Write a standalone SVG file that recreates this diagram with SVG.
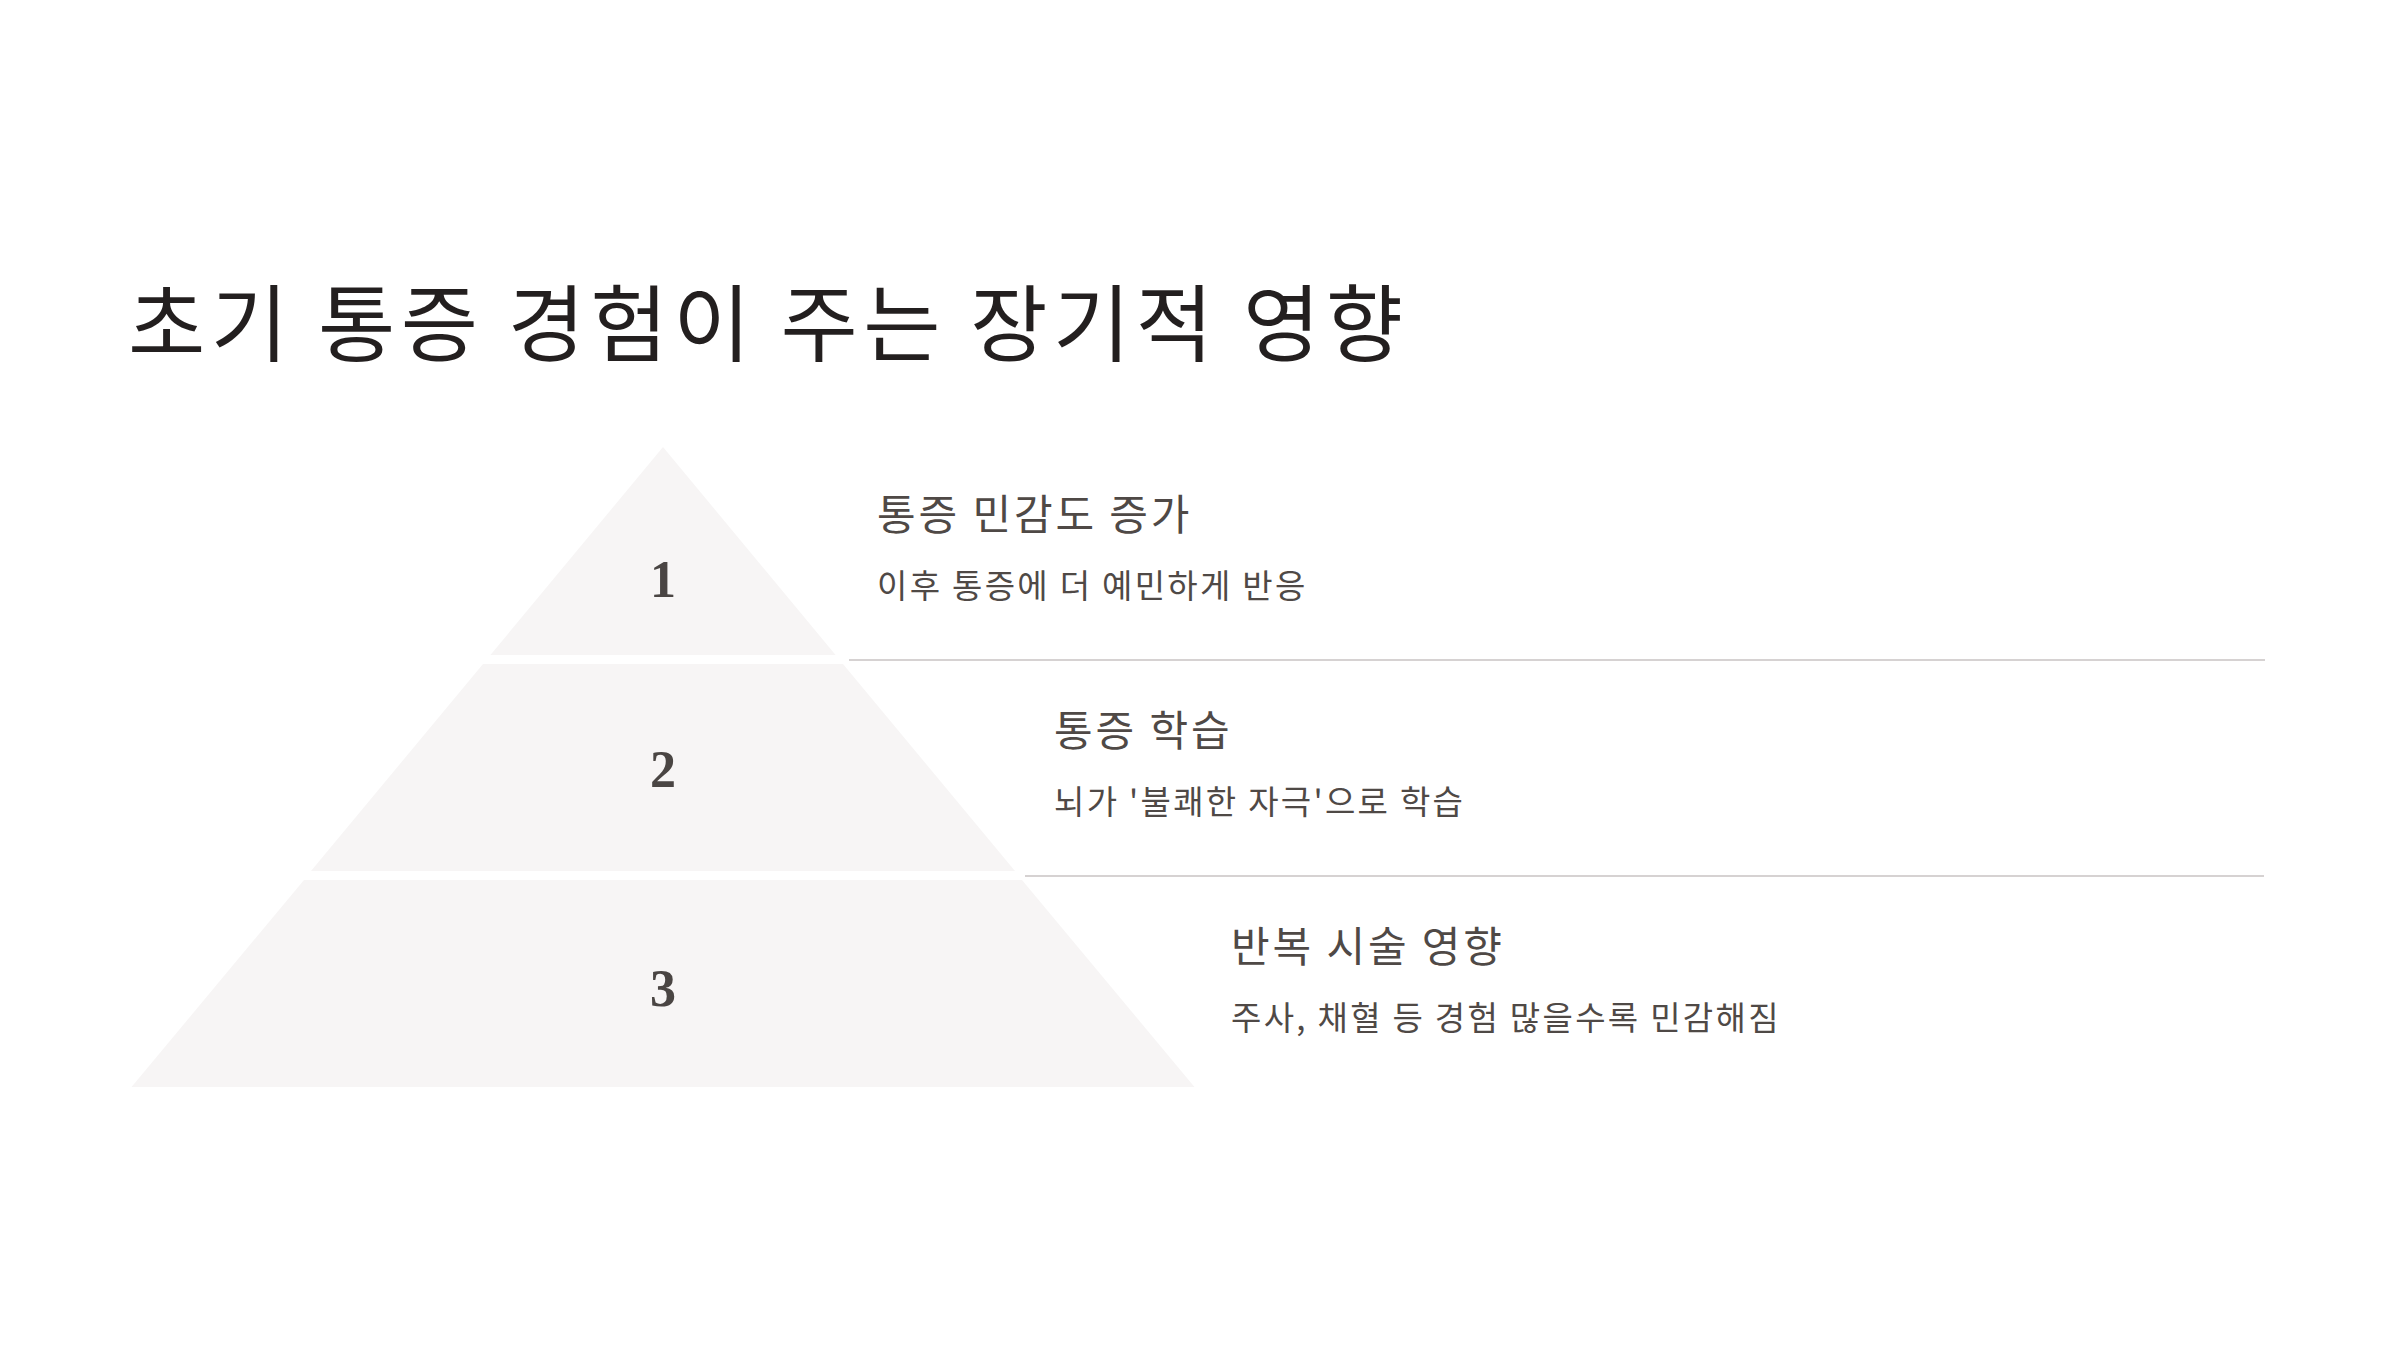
<svg xmlns="http://www.w3.org/2000/svg" width="2400" height="1350" viewBox="0 0 2400 1350">
  <style>
    .kr { font-family: "Noto Sans CJK KR", "Noto Sans", sans-serif; }
    .title { font-size: 84px; fill: #231f1f; letter-spacing: 5.5px; }
    .head { font-size: 42px; fill: #4f4946; letter-spacing: 2.9px; }
    .sub { font-size: 33px; fill: #4f4946; letter-spacing: 2.3px; }
    .tier { fill: #f7f5f5; }
    .num { font-family: "Liberation Serif", "DejaVu Serif", serif; font-size: 52px; font-weight: bold; fill: #4a4543; text-anchor: middle; }
    .sep { stroke: #d6d2d2; stroke-width: 2; }
  </style>
  <rect width="2400" height="1350" fill="#ffffff"/>
  <text class="kr title" x="128" y="355">초기 통증 경험이 주는 장기적 영향</text>

  <g id="tier1">
    <polygon class="tier" points="663,447 835.6,655 490.4,655"/>
    <text class="num" x="663" y="597">1</text>
    <text class="kr head" x="877" y="530">통증 민감도 증가</text>
    <text class="kr sub" x="877" y="598">이후 통증에 더 예민하게 반응</text>
  </g>
  <g id="tier2">
    <polygon class="tier" points="483,664 843,664 1015,871 311,871"/>
    <text class="num" x="663" y="787">2</text>
    <text class="kr head" x="1054" y="746">통증 학습</text>
    <text class="kr sub" x="1054" y="814">뇌가 '불쾌한 자극'으로 학습</text>
  </g>
  <g id="tier3">
    <polygon class="tier" points="304,880 1022,880 1194.5,1087 131.5,1087"/>
    <text class="num" x="663" y="1006">3</text>
    <text class="kr head" x="1231" y="962">반복 시술 영향</text>
    <text class="kr sub" x="1231" y="1030">주사, 채혈 등 경험 많을수록 민감해짐</text>
  </g>

  <g id="connectors">
    <line class="sep" x1="849" y1="660" x2="2265" y2="660"/>
    <line class="sep" x1="1025" y1="876" x2="2264" y2="876"/>
  </g>
</svg>
